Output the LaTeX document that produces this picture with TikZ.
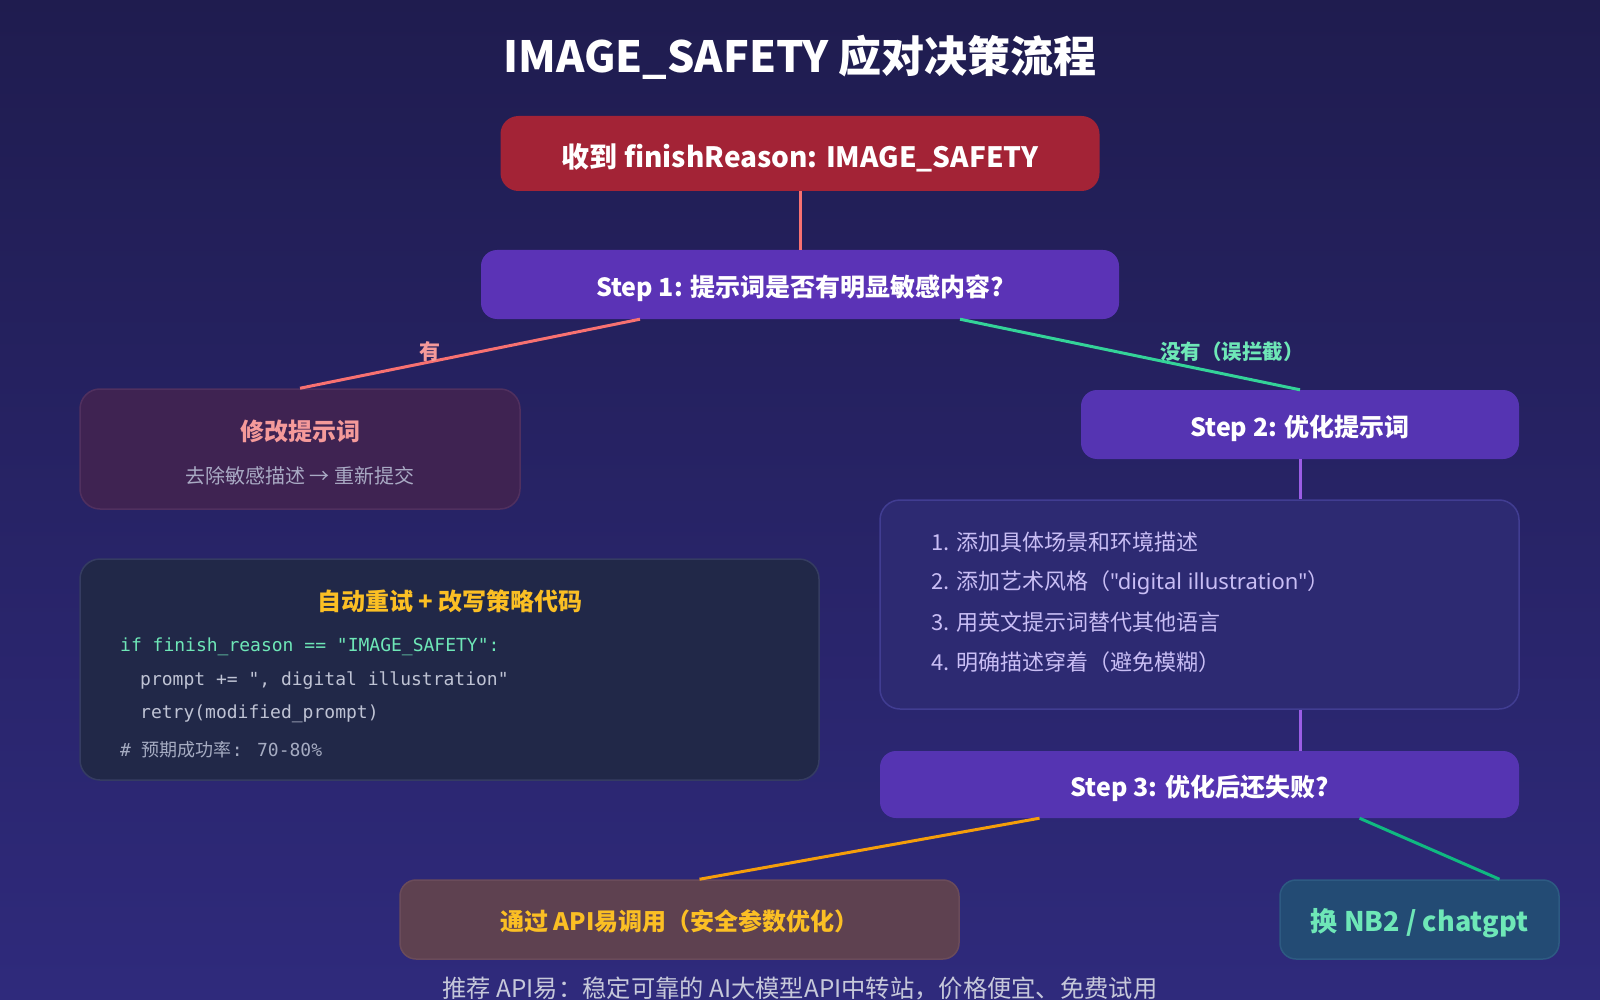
\documentclass[tikz,border=0pt]{standalone}
\usepackage{fontspec}
\setmainfont{Noto Sans CJK SC}
\newfontfamily\codefont{DejaVu Sans Mono}
\newfontfamily\latinfont{Noto Sans}
\usetikzlibrary{calc}
\definecolor{bgtop}{HTML}{1F1C4F}
\definecolor{bgbot}{HTML}{2F2A7C}
\definecolor{redbox}{HTML}{A32336}
\definecolor{step1c}{HTML}{5B33B6}
\definecolor{stepc}{HTML}{5534B2}
\definecolor{modfill}{HTML}{3F2352}
\definecolor{moddraw}{HTML}{50305F}
\definecolor{codefill}{HTML}{212848}
\definecolor{codedraw}{HTML}{353C62}
\definecolor{listfill}{HTML}{2D2A72}
\definecolor{listdraw}{HTML}{413D92}
\definecolor{apifill}{HTML}{5E4150}
\definecolor{apidraw}{HTML}{6A4B5A}
\definecolor{nbfill}{HTML}{234B74}
\definecolor{nbdraw}{HTML}{2D5A82}
\definecolor{salmon}{HTML}{F87171}
\definecolor{salmontxt}{HTML}{F59A9A}
\definecolor{greenln}{HTML}{34D399}
\definecolor{greentxt}{HTML}{6EE7B7}
\definecolor{greenln2}{HTML}{10B981}
\definecolor{orangeln}{HTML}{F59E0B}
\definecolor{yellowtxt}{HTML}{FBBF24}
\definecolor{purpleln}{HTML}{9B5DE5}
\definecolor{graytxt}{HTML}{A9AAC4}
\definecolor{codegray}{HTML}{BFC3D4}
\definecolor{commentc}{HTML}{A6ACC2}
\definecolor{lavtxt}{HTML}{C9BEF5}
\definecolor{foottxt}{HTML}{C6C8DA}
\tikzset{
  box/.style={rectangle, rounded corners=16pt, inner sep=0pt, align=center, text height=26pt, text depth=2pt},
  stepbox/.style={box, fill=stepc, text=white, font=\bfseries\fontsize{25}{30}\selectfont},
  conn/.style={line width=3pt},
  codeline/.style={anchor=west, inner sep=0pt, font=\codefont\fontsize{18}{22}\selectfont},
  listline/.style={anchor=west, inner sep=0pt, text=lavtxt, font=\fontsize{22}{26}\selectfont},
}
\begin{document}
\begin{tikzpicture}[x=1pt,y=-1pt]
\useasboundingbox (0,0) rectangle (1600,1000);
\shade[top color=bgtop, bottom color=bgbot] (0,0) rectangle (1600,1000);

\node[inner sep=0pt, text=white, font=\bfseries\fontsize{43}{50}\selectfont] (title) at (800,57) {IMAGE\_SAFETY 应对决策流程};

\node[box, fill=redbox, text=white, minimum width=599pt, minimum height=75pt, rounded corners=18pt, text height=30pt, font=\bfseries\fontsize{28}{34}\selectfont] (top) at (800,153.5) {收到 finishReason: IMAGE\_SAFETY};

\node[stepbox, fill=step1c, minimum width=638pt, minimum height=69pt] (s1) at (800,284.5) {Step 1: 提示词是否有明显敏感内容?};

\node[box, fill=modfill, draw=moddraw, line width=1.5pt, minimum width=440pt, minimum height=120pt, rounded corners=20pt] (mod) at (300,449) {};
\node[inner sep=0pt, text=salmontxt, font=\bfseries\fontsize{24}{28}\selectfont] (modt) at (300,431) {修改提示词};
\node[inner sep=0pt, text=graytxt, font=\fontsize{20}{24}\selectfont] (mods) at (300,476) {去除敏感描述 → 重新提交};

\node[box, fill=codefill, draw=codedraw, line width=1.5pt, minimum width=739pt, minimum height=221pt, rounded corners=20pt] (code) at (449.5,669.5) {};
\node[inner sep=0pt, text=yellowtxt, font=\bfseries\fontsize{24}{28}\selectfont] (codet) at (450,601) {自动重试 + 改写策略代码};
\node[codeline, text=greentxt] (c1) at (120,647) {if finish\_reason == "IMAGE\_SAFETY":};
\node[codeline, text=codegray] (c2) at (140,681) {prompt += ", digital illustration"};
\node[codeline, text=codegray] (c3) at (140,714) {retry(modified\_prompt)};
\node[codeline, text=commentc] (c4) at (120,750) {\# {\rmfamily 预期成功率}: 70-80\%};

\node[stepbox, minimum width=438pt, minimum height=69pt] (s2) at (1300,424.5) {Step 2: 优化提示词};

\node[box, fill=listfill, draw=listdraw, line width=1.5pt, minimum width=639pt, minimum height=209pt, rounded corners=20pt] (list) at (1199.5,604.5) {};
\node[listline] (l1) at (931,542) {1. 添加具体场景和环境描述};
\node[listline] (l2) at (931,583) {2. 添加艺术风格（{\latinfont "digital illustration"}）};
\node[listline] (l3) at (931,622) {3. 用英文提示词替代其他语言};
\node[listline] (l4) at (931,662) {4. 明确描述穿着（避免模糊）};

\node[stepbox, minimum width=639pt, minimum height=67pt] (s3) at (1199.5,784.5) {Step 3: 优化后还失败?};

\node[box, fill=apifill, draw=apidraw, line width=1.5pt, minimum width=559pt, minimum height=79pt, text height=24pt, text=yellowtxt, font=\bfseries\fontsize{24}{28}\selectfont] (api) at (679.5,919.5) {通过 API易调用（安全参数优化）};

\node[box, fill=nbfill, draw=nbdraw, line width=1.5pt, minimum width=279pt, minimum height=79pt, text=greentxt, font=\bfseries\fontsize{27}{32}\selectfont] (nb) at (1419.5,919.5) {换 NB2 / chatgpt};

\node[inner sep=0pt, text=foottxt, font=\fontsize{24.3}{28}\selectfont] (foot) at (800,988) {推荐 API易：稳定可靠的 AI大模型API中转站，价格便宜、免费试用};

% connectors
\draw[conn, salmon] (top.south) -- (s1.north);
\draw[conn, salmon] ($(s1.south)+(-160,0)$) -- (mod.north);
\draw[conn, greenln] ($(s1.south)+(160,0)$) -- (s2.north);
\draw[conn, purpleln] (s2.south) -- (s2.south |- list.north);
\draw[conn, purpleln] (s2.south |- list.south) -- (s2.south |- s3.north);
\draw[conn, orangeln] ($(s3.south)+(-160,0)$) -- ($(api.north)+(20,0)$);
\draw[conn, greenln2] ($(s3.south)+(160,0)$) -- ($(nb.north)+(80,0)$);

\node[inner sep=0pt, text=salmontxt, font=\bfseries\fontsize{21}{24}\selectfont] (lyes) at (430,352) {有};
\node[inner sep=0pt, text=greentxt, font=\bfseries\fontsize{20.5}{24}\selectfont] (lno) at (1232,352) {没有（误拦截）};
\end{tikzpicture}
\end{document}
